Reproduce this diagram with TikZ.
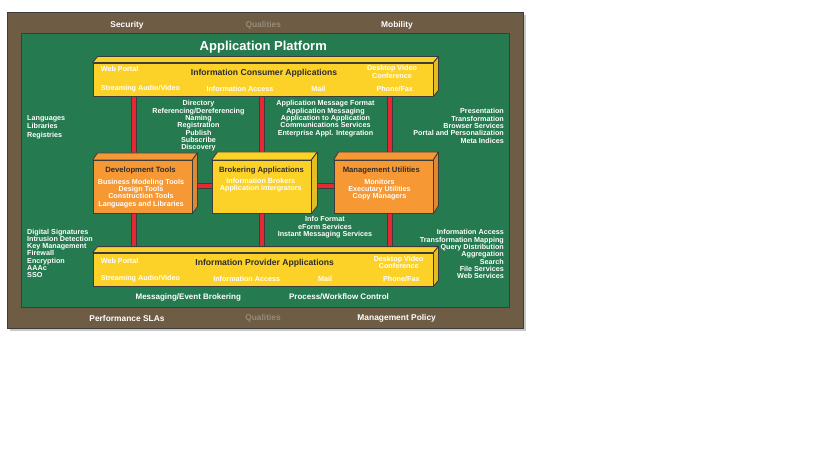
\documentclass[tikz,border=0pt]{standalone}
\usepackage{fontspec}
\setmainfont{Liberation Sans}

\definecolor{platbrown}{RGB}{110,92,68}
\definecolor{platgreen}{RGB}{38,122,80}
\definecolor{appyellow}{RGB}{253,210,40}
\definecolor{tooorange}{RGB}{246,152,52}
\definecolor{barred}{RGB}{230,40,50}
\definecolor{edgegray}{RGB}{60,60,60}
\definecolor{titledark}{RGB}{45,45,45}
\definecolor{qualgray}{RGB}{150,140,122}
\definecolor{shadowgray}{RGB}{200,200,200}

\newcommand\lblfont{\fontsize{7.2}{7.3}\selectfont\bfseries}
\newcommand\rimfont{\fontsize{8.4}{9}\selectfont\bfseries}
\newcommand\tilefont{\fontsize{7.7}{8}\selectfont\bfseries}
\newcommand\widefont{\fontsize{8.6}{9}\selectfont\bfseries}
\newcommand\platfont{\fontsize{13}{14}\selectfont\bfseries}

\tikzset{
  wide/.style={draw=edgegray, line width=0.8pt, fill=appyellow, minimum width=340pt, minimum height=33pt, inner sep=0pt},
  tile/.style={draw=edgegray, line width=0.8pt, minimum width=99pt, minimum height=53pt, inner sep=0pt},
  face/.style={draw=edgegray, line width=0.8pt, line join=round},
  bar/.style={draw=edgegray, line width=0.7pt, double=barred, double distance=4pt, shorten <=0.5pt},
  lbl/.style={text=white, font=\lblfont, inner sep=0pt, align=center},
  tiletitle/.style={text=titledark, font=\tilefont, inner sep=0pt},
  widetitle/.style={text=titledark, font=\widefont, inner sep=0pt},
  rim/.style={text=white, font=\rimfont, inner sep=0pt},
}

\begin{document}
\begin{tikzpicture}[x=1pt,y=-1pt]
  \useasboundingbox (0,0) rectangle (819,460);

  % frame and platform
  \fill[shadowgray] (10,15) rectangle (526,331);
  \filldraw[fill=platbrown, draw=edgegray, line width=0.8pt] (7,12) rectangle (523,328);
  \filldraw[fill=platgreen, draw=edgegray, line width=0.8pt] (21,33) rectangle (509,307);

  \node[rim] (sec) at (127,25) {Security};
  \node[rim, text=qualgray] (qtop) at (263.3,25) {Qualities};
  \node[rim] (mob) at (397,25) {Mobility};
  \node[rim] (perf) at (127,318.3) {Performance SLAs};
  \node[rim, text=qualgray] (qbot) at (263,318.3) {Qualities};
  \node[rim] (mpol) at (396.7,318.3) {Management Policy};
  \node[text=white, font=\platfont, inner sep=0pt] (plat) at (263.3,46.7) {Application Platform};

  % boxes
  \node[wide] (cons) at (263,79.5) {};
  \node[tile, fill=tooorange] (dev) at (142.5,186.8) {};
  \node[tile, fill=appyellow] (brok) at (261.5,186.8) {};
  \node[tile, fill=tooorange] (mgmt) at (383.5,186.8) {};
  \node[wide] (prov) at (263,269.5) {};

  % connectors
  \coordinate (colA) at (134,0);
  \coordinate (colB) at (262,0);
  \coordinate (colC) at (390,0);
  \coordinate (rowM) at (0,186);
  \draw[bar] (cons.south -| colA) -- (dev.north -| colA);
  \draw[bar] (cons.south -| colB) -- (brok.north -| colB);
  \draw[bar] (cons.south -| colC) -- (mgmt.north -| colC);
  \draw[bar] (dev.east |- rowM) -- (brok.west |- rowM);
  \draw[bar] (brok.east |- rowM) -- (mgmt.west |- rowM);
  \draw[bar] (dev.south -| colA) -- (prov.north -| colA);
  \draw[bar] (brok.south -| colB) -- (prov.north -| colB);
  \draw[bar] (mgmt.south -| colC) -- (prov.north -| colC);

  % top and side faces
  \foreach \n/\c/\dx/\dy in {cons/appyellow/5/6, dev/tooorange/5/7, brok/appyellow/6/8, mgmt/tooorange/5/8, prov/appyellow/5/6}{
    \filldraw[face, fill=\c] (\n.north west) -- ++(\dx,-\dy) -- ([shift={(\dx,-\dy)}]\n.north east) -- (\n.north east) -- cycle;
    \filldraw[face, fill=\c!90!black] (\n.north east) -- ++(\dx,-\dy) -- ([shift={(\dx,-\dy)}]\n.south east) -- (\n.south east) -- cycle;
  }

  % consumer box texts
  \node[widetitle] (consT) at (264,73.3) {Information Consumer Applications};
  \node[lbl, anchor=west] (cWeb) at (100.7,69.3) {Web Portal};
  \node[lbl, anchor=west] (cStream) at (100.7,89) {Streaming Audio/Video};
  \node[lbl] (cInfo) at (240,89) {Information Access};
  \node[lbl] (cMail) at (318.3,89) {Mail};
  \node[lbl] (cPhone) at (394.7,89) {Phone/Fax};
  \node[lbl] (cDesk) at (392,72) {Desktop Video\\Conference};

  % middle box texts
  \node[tiletitle] (devT) at (140.5,171) {Development Tools};
  \node[lbl] (devL) at (141,193.3) {Business Modeling Tools\\Design Tools\\Construction Tools\\Languages and Libraries};
  \node[tiletitle] (brokT) at (261.5,170.3) {Brokering Applications};
  \node[lbl] (brokL) at (260.8,185.3) {Information Brokers\\Application Intergrators};
  \node[tiletitle] (mgmtT) at (381.3,171) {Management Utilities};
  \node[lbl] (mgmtL) at (379.5,189.5) {Monitors\\Executary Utilities\\Copy Managers};

  % provider box texts
  \node[widetitle] (provT) at (264.7,263.3) {Information Provider Applications};
  \node[lbl, anchor=west] (pWeb) at (100.7,260.7) {Web Portal};
  \node[lbl, anchor=west] (pStream) at (100.7,279) {Streaming Audio/Video};
  \node[lbl] (pInfo) at (246.7,279) {Information Access};
  \node[lbl] (pMail) at (325,279) {Mail};
  \node[lbl] (pPhone) at (401.3,279) {Phone/Fax};
  \node[lbl] (pDesk) at (398.7,262.5) {Desktop Video\\Conference};

  % services round the boxes
  \node[lbl, anchor=west, align=left, font=\fontsize{7.2}{8.7}\selectfont\bfseries] (langs) at (27,127) {Languages\\Libraries\\Registries};
  \node[lbl] (dirs) at (198.5,126) {Directory\\Referencing/Dereferencing\\Naming\\Registration\\Publish\\Subscribe\\Discovery};
  \node[lbl] (appmsg) at (325.5,118.7) {Application Message Format\\Application Messaging\\Application to Application\\Communications Services\\Enterprise Appl. Integration};
  \node[lbl, anchor=east, align=right] (pres) at (504,126) {Presentation\\Transformation\\Browser Services\\Portal and Personalization\\Meta Indices};
  \node[lbl] (infofmt) at (325,227.3) {Info Format\\eForm Services\\Instant Messaging Services};
  \node[lbl, anchor=west, align=left] (sigs) at (27,253.4) {Digital Signatures\\Intrusion Detection\\Key Management\\Firewall\\Encryption\\AAAc\\SSO};
  \node[lbl, anchor=east, align=right] (access) at (504,254.2) {Information Access\\Transformation Mapping\\Query Distribution\\Aggregation\\Search\\File Services\\Web Services};
  \node[lbl, font=\fontsize{8}{9}\selectfont\bfseries] (msgev) at (188.3,297) {Messaging/Event Brokering};
  \node[lbl, font=\fontsize{8}{9}\selectfont\bfseries] (procwf) at (339,297) {Process/Workflow Control};
\end{tikzpicture}
\end{document}
